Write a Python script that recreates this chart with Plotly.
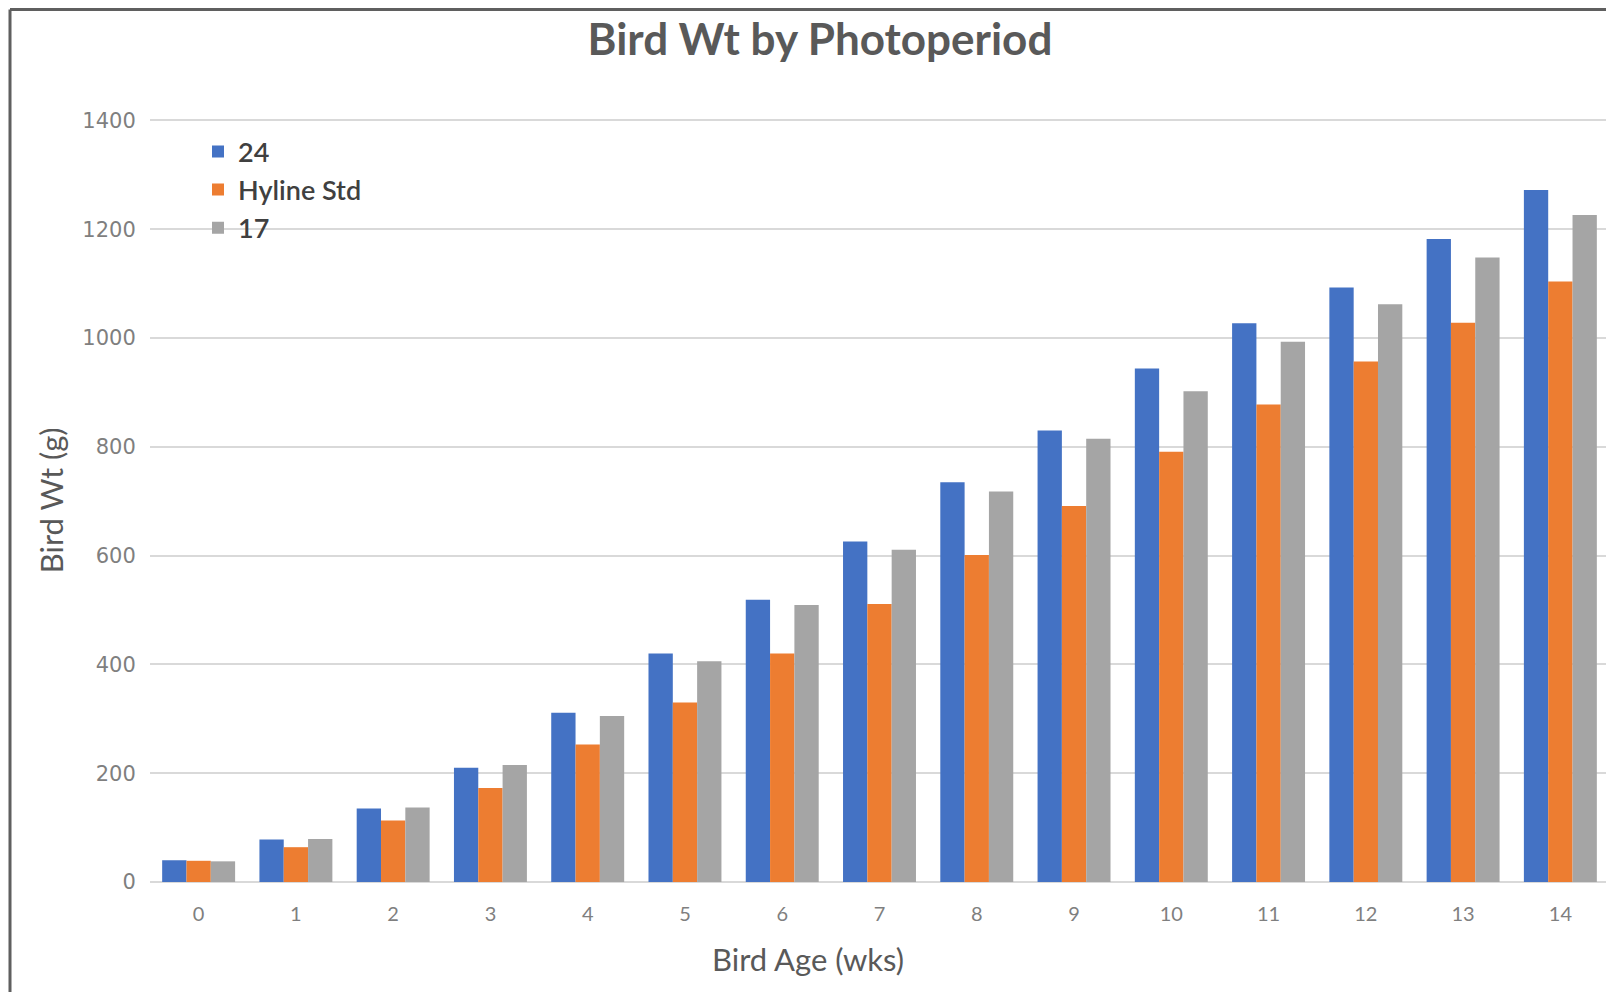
import plotly.graph_objects as go

ages = ["0", "1", "2", "3", "4", "5", "6", "7", "8", "9", "10", "11", "12", "13", "14"]
wt_24 = [40, 78, 135, 210, 311, 420, 519, 626, 735, 830, 944, 1027, 1093, 1182, 1272]
wt_hyline = [39, 64, 113, 173, 253, 330, 420, 511, 601, 691, 791, 878, 957, 1028, 1104]
wt_17 = [38, 79, 137, 215, 305, 406, 509, 611, 718, 815, 902, 993, 1062, 1148, 1226]

series_names = ["24", "Hyline Std", "17"]
series_colors = ["#4472C4", "#ED7D31", "#A5A5A5"]

Y_MAX = 1410
OFF = 8  # page body margin in the screenshot
W, H = 1614 - OFF, 992 - OFF
# plot area edges in screenshot pixels (0 at y=882, 1400 at y=120)
SL, SR, SB = 150, 1609, 882
ST = SB - Y_MAX * (882 - 120) / 1400
L, R, T, B = SL - OFF, SR - OFF, ST - OFF, SB - OFF

def px_x(p):
    return (p - OFF - L) / (R - L)

def px_y(p):
    return (B - (p - OFF)) / (B - T)

fig = go.Figure()
for name, vals, col in zip(series_names, [wt_24, wt_hyline, wt_17], series_colors):
    fig.add_trace(go.Bar(x=ages, y=vals, name=name, marker_color=col,
                         marker_line_width=0))

fig.update_layout(
    width=W, height=H,
    paper_bgcolor="white", plot_bgcolor="white",
    margin=dict(l=L, r=W - R, t=T, b=H - B, autoexpand=False),
    barmode="group", bargap=0.25, bargroupgap=0,
    title=dict(text="<b>Bird Wt by Photoperiod</b>", x=(820 - OFF) / W, xanchor="center",
               y=1 - (40 - OFF) / H, yanchor="middle",
               font=dict(family="Lato", size=44, color="#595959")),
    showlegend=True,
    legend=dict(x=px_x(198), y=px_y(127), xanchor="left", yanchor="top",
                font=dict(family="Lato", size=27, color="#404040", weight=600),
                bgcolor="rgba(0,0,0,0)", traceorder="normal"),
    xaxis=dict(type="category", showgrid=False, showline=False, zeroline=False,
               ticks="outside", ticklen=14, tickcolor="rgba(0,0,0,0)",
               tickfont=dict(family="Lato", size=20, color="#7f7f7f")),
    yaxis=dict(range=[0, Y_MAX], tickvals=[0, 200, 400, 600, 800, 1000, 1200, 1400],
               showgrid=True, gridcolor="#D9D9D9", gridwidth=1.5,
               zeroline=True, zerolinecolor="#D9D9D9", zerolinewidth=1.5, showline=False,
               ticks="outside", ticklen=9, tickcolor="rgba(0,0,0,0)",
               tickfont=dict(family="DejaVu Sans", size=21, color="#7f7f7f")),
)

fig.add_annotation(text="Bird Age (wks)", xref="paper", yref="paper",
                   x=px_x(808), y=px_y(959), showarrow=False,
                   xanchor="center", yanchor="middle",
                   font=dict(family="Lato", size=31, color="#595959"))
fig.add_annotation(text="Bird Wt (g)", xref="paper", yref="paper",
                   x=px_x(51), y=px_y(500), showarrow=False, textangle=-90,
                   xanchor="center", yanchor="middle",
                   font=dict(family="Lato", size=31, color="#595959"))

# chart border (top and left visible in the reference)
fig.add_shape(type="line", xref="paper", yref="paper",
              x0=px_x(10), x1=px_x(1640), y0=px_y(9), y1=px_y(9),
              line=dict(color="#5f5f5f", width=3))
fig.add_shape(type="line", xref="paper", yref="paper",
              x0=px_x(10), x1=px_x(10), y0=px_y(9), y1=px_y(1000),
              line=dict(color="#5f5f5f", width=3))

fig.write_html("out.html")
